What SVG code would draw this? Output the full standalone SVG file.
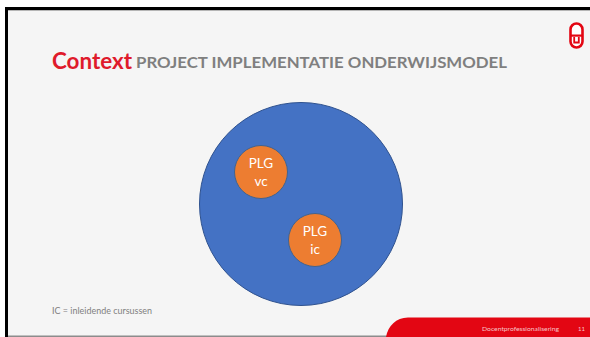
<svg xmlns="http://www.w3.org/2000/svg" width="590" height="337" viewBox="0 0 590 337">
<style>
text{font-family:Lato,"Liberation Sans",sans-serif}
.plg{fill:#ed7d31;stroke:#41638f;stroke-width:1}
.pt{fill:#fff;font-size:13.500px;text-anchor:middle}
</style>
<rect width="590" height="337" fill="#fff"/>
<rect x="5" y="7" width="585" height="330" fill="#000"/>
<rect x="8" y="10" width="582" height="327" fill="#f5f5f5"/>
<rect x="8" y="10" width="582" height="1" fill="#b5b5b5"/>
<rect x="8" y="335.500" width="582" height="1.500" fill="#8c8c8c"/>
<g id="logo">
<rect x="570.500" y="23.500" width="12" height="24" rx="6" fill="#fff" stroke="#e30613" stroke-width="2.600"/>
<rect x="570" y="34.500" width="13" height="2.200" fill="#e30613"/>
<path d="M574.200 37v5.500h4.600v-5.500" fill="none" stroke="#e30613" stroke-width="1.800"/>
</g>
<text x="52" y="69" font-size="22" font-weight="700" fill="#df1a2b" textLength="80" lengthAdjust="spacingAndGlyphs">Context</text>
<text x="136" y="68" font-size="16" font-weight="700" fill="#7f7f7f" textLength="371" lengthAdjust="spacingAndGlyphs">PROJECT IMPLEMENTATIE ONDERWIJSMODEL</text>
<g id="outer"><circle cx="301" cy="204" r="101.500" fill="#4472c4" stroke="#2f528f" stroke-width="1"/></g>
<g id="plg-vc"><circle class="plg" cx="261" cy="172" r="26.500"/>
<text class="pt" x="261" y="168">PLG</text><text class="pt" x="261" y="186">vc</text></g>
<g id="plg-ic"><circle class="plg" cx="315" cy="240" r="26.500"/>
<text class="pt" x="315" y="236">PLG</text><text class="pt" x="315" y="254">ic</text></g>
<text x="52" y="314" font-size="8.500" fill="#7f7f7f" textLength="100" lengthAdjust="spacingAndGlyphs">IC = inleidende cursussen</text>
<g id="footer">
<path d="M386 337C388 326 396 317.500 408 317.500H590V337Z" fill="#e30613"/>
<text x="482" y="331" font-size="6" fill="#f7c5c8" textLength="77" lengthAdjust="spacingAndGlyphs">Docentprofessionalisering</text>
<text x="578" y="331" font-size="6" fill="#f7c5c8">11</text>
</g>
</svg>
